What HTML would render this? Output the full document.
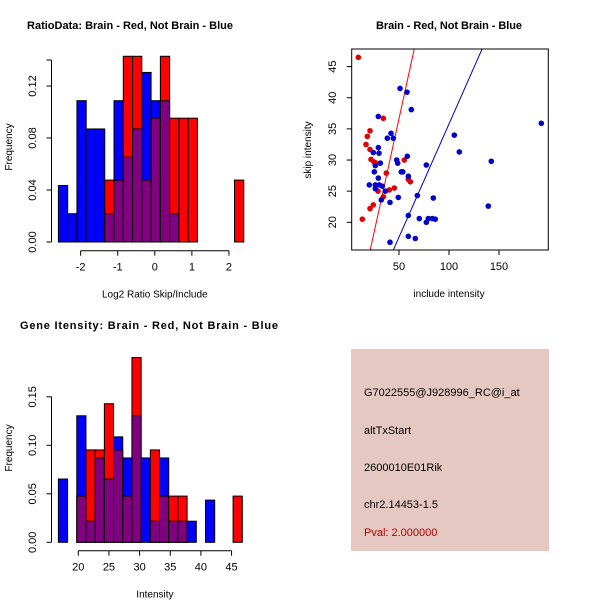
<!DOCTYPE html>
<html><head><meta charset="utf-8"><style>
html,body{margin:0;padding:0;background:#fff}
svg{display:block;font-family:"Liberation Sans",sans-serif}
</style></head><body>
<svg id="s" width="600" height="600" xmlns="http://www.w3.org/2000/svg">
<rect width="600" height="600" fill="#fff"/>
<text x="130" y="29" text-anchor="middle" font-size="11" font-weight="bold" textLength="206">RatioData: Brain - Red, Not Brain - Blue</text>
<text x="449" y="29" text-anchor="middle" font-size="11" font-weight="bold" textLength="146">Brain - Red, Not Brain - Blue</text>
<text x="149" y="329" text-anchor="middle" font-size="11" font-weight="bold" textLength="258">Gene Itensity: Brain - Red, Not Brain - Blue</text>
<g id="h1"></g>
<g id="h2"></g>
<g id="sc"></g>
<g>
<rect x="351" y="349" width="198" height="202" fill="#e5c8c1"/>
<text x="364" y="396" font-size="11">G7022555@J928996_RC@i_at</text>
<text x="364" y="434" font-size="11">altTxStart</text>
<text x="364" y="471" font-size="11">2600010E01Rik</text>
<text x="364" y="508" font-size="11">chr2.14453-1.5</text>
<text x="364" y="536" font-size="11" fill="#b00000">Pval: 2.000000</text>
</g>
</svg>
<script>
// Ratio histogram data
const ratioStart = -2.6, ratioWidth = 0.25;
const ratioBlueCounts = [2,1,5,4,4,1,5,3,4,6,5,5,1,0,0,0,0,0,0,0];
const ratioRedCounts  = [0,0,0,0,0,1,1,3,3,1,2,3,2,2,2,0,0,0,0,1];
const ratioXTicks = [-2,-1,0,1,2];
const ratioYTicks = ["0.00","0.04","0.08","0.12"];
// Intensity histogram data
const intStart = 16.75, intWidth = 1.5;
const intBlueCounts = [3,0,6,1,4,3,5,4,6,4,1,4,1,1,1,0,2,0,0,0];
const intRedCounts  = [0,0,1,2,2,3,2,1,4,0,2,1,1,1,0,0,0,0,0,1];
const intXTicks = [20,25,30,35,40,45];
const intYTicks = ["0.00","0.05","0.10","0.15"];
const nBlue = 46, nRed = 21;
// Scatter data
const redInclude = [9.3,13.3,21,18.3,17,21,22,25,29,21,24.3,34.3,37.3,34.3,40.3,45.3,55.3,59.3,61.3,26];
const redSkip    = [46.5,20.5,34.7,33.8,32.5,31.7,30.1,29.7,25.0,22.2,22.8,36.7,27.9,24.1,25.2,25.5,30.0,26.9,26.5,29.6];
const blueInclude = [51,58,62.3,29.3,42,38.3,44.3,29.3,30,24.3,31.3,26.3,47.7,48.7,58.3,52.3,53.7,25.3,29.3,59.3,20.3,26.3,30.3,33.3,26.3,36.3,32.3,41,49.3,68.3,84.3,59.3,70.3,77.3,79.3,83.3,86.3,77.3,105.3,110.3,142.3,139.3,192.3,59.3,66.3,41];
const blueSkip    = [41.5,40.9,38.1,37.0,34.3,33.5,33.5,32.0,31.1,31.2,29.5,29.1,30.0,29.5,30.6,28.1,28.1,28.1,27.1,27.4,26.0,26.0,26.0,25.8,25.4,25.0,23.6,23.2,24.0,24.3,23.9,21.1,20.6,20.0,20.6,20.6,20.5,29.2,34.0,31.3,29.8,22.6,35.9,17.75,17.4,16.8];
const redFit = [0, 0.733];
const blueFit = [-0.56, 0.3636];
const scXTicks = [50,100,150];
const scYTicks = [20,25,30,35,40,45];

const NS="http://www.w3.org/2000/svg";
function mk(parent,tag,attrs){const e=document.createElementNS(NS,tag);for(const k in attrs)e.setAttribute(k,attrs[k]);parent.appendChild(e);return e;}

function hist(g,start,w,blue,red,sx,sy,name){
  for(let i=0;i<blue.length;i++){
    const fb=blue[i]/nBlue, fr=red[i]/nRed;
    const x0=sx(start+i*w), x1=sx(start+(i+1)*w);
    const hi=Math.max(fb,fr), lo=Math.min(fb,fr);
    if(hi>0){
      const r=mk(g,'rect',{x:x0,y:sy(hi),width:x1-x0,height:sy(0)-sy(hi),fill:fb>=fr?'#0000ff':'#ff0000',stroke:'#000','stroke-width':1});
      
      
    }
    if(lo>0){
      const r=mk(g,'rect',{x:x0,y:sy(lo),width:x1-x0,height:sy(0)-sy(lo),fill:'#800080',stroke:'#000','stroke-width':1});
      
      
    }
  }
}
function axes(g,sx,sy,xt,yt,yv,ybase,xlab,name){
  const xa=sx(xt[0]), xb=sx(xt[xt.length-1]);
  mk(g,'line',{x1:xa,y1:ybase,x2:xb,y2:ybase,stroke:'#000'});
  xt.forEach(t=>{mk(g,'line',{x1:sx(t),y1:ybase,x2:sx(t),y2:ybase+5,stroke:'#000'});
    const tx=mk(g,'text',{x:sx(t),y:ybase+20,'text-anchor':'middle','font-size':11});tx.textContent=String(t);
    
    });
  const ax=51.5;
  mk(g,'line',{x1:ax,y1:sy(yv[0]),x2:ax,y2:sy(yv[yv.length-1]),stroke:'#000'});
  yv.forEach((v,i)=>{mk(g,'line',{x1:ax,y1:sy(v),x2:ax-5,y2:sy(v),stroke:'#000'});
    if(i<yt.length){
    const tx=mk(g,'text',{x:36,y:sy(v),'text-anchor':'middle','font-size':11,transform:`rotate(-90 36 ${sy(v)})`});tx.textContent=yt[i];
    
    }});
  const xl=mk(g,'text',{x:(xa+xb)/2,y:ybase+47,'text-anchor':'middle','font-size':10});xl.textContent=xlab;
  
  
}
// hist 1
(function(){
  const g=document.getElementById('h1');
  const sx=v=>154.8+v*37.08, sy=v=>242-v*1300;
  hist(g,ratioStart,ratioWidth,ratioBlueCounts,ratioRedCounts,sx,sy,'ratio');
  axes(g,sx,sy,ratioXTicks,ratioYTicks,[0,0.04,0.08,0.12,0.14],250.7,'Log2 Ratio Skip/Include','ratio');
  const yl=mk(g,'text',{x:12,y:147,'text-anchor':'middle','font-size':10,transform:'rotate(-90 12 147)'});yl.textContent='Frequency';
  
  
})();
// hist 2
(function(){
  const g=document.getElementById('h2');
  const sx=v=>78.3+(v-20)*6.13, sy=v=>542.3-v*970;
  hist(g,intStart,intWidth,intBlueCounts,intRedCounts,sx,sy,'intensity');
  axes(g,sx,sy,intXTicks,intYTicks,[0,0.05,0.10,0.15],550.7,'Intensity','intensity');
  const yl=mk(g,'text',{x:12,y:448,'text-anchor':'middle','font-size':10,transform:'rotate(-90 12 448)'});yl.textContent='Frequency';
  
  
})();
// scatter
(function(){
  const g=document.getElementById('sc');
  const L=351.7,R=548.3,T=49,B=250;
  const sx=v=>349+v, sy=v=>222.3-(v-20)*6.227;
  const clip=mk(g,'clipPath',{id:'scclip'});mk(clip,'rect',{x:L,y:T,width:R-L,height:B-T});
  const inner=mk(g,'g',{'clip-path':'url(#scclip)'});
  [[redFit,'#ff0000','red-fit-line'],[blueFit,'#0000c0','blue-fit-line']].forEach(([f,c,n])=>{
    const l=mk(inner,'line',{x1:sx(0),y1:sy(f[0]),x2:sx(200),y2:sy(f[0]+f[1]*200),stroke:c,'stroke-width':1});
    
    
  });
  redInclude.forEach((x,i)=>{const c=mk(g,'circle',{cx:sx(x),cy:sy(redSkip[i]),r:2.8,fill:'#e00000'});
    
    });
  blueInclude.forEach((x,i)=>{const c=mk(g,'circle',{cx:sx(x),cy:sy(blueSkip[i]),r:2.8,fill:'#0000d0'});
    
    });
  mk(g,'rect',{x:L,y:T,width:R-L,height:B-T,fill:'none',stroke:'#000'});
  scXTicks.forEach(t=>{mk(g,'line',{x1:sx(t),y1:B,x2:sx(t),y2:B+5,stroke:'#000'});
    const tx=mk(g,'text',{x:sx(t),y:B+20,'text-anchor':'middle','font-size':11});tx.textContent=String(t);
    
    });
  scYTicks.forEach(t=>{mk(g,'line',{x1:L,y1:sy(t),x2:L-5,y2:sy(t),stroke:'#000'});
    const tx=mk(g,'text',{x:336,y:sy(t),'text-anchor':'middle','font-size':11,transform:`rotate(-90 336 ${sy(t)})`});tx.textContent=String(t);
    
    });
  const xl=mk(g,'text',{x:449,y:297,'text-anchor':'middle','font-size':10});xl.textContent='include intensity';
  
  
  const yl=mk(g,'text',{x:311,y:150,'text-anchor':'middle','font-size':10,transform:'rotate(-90 311 150)'});yl.textContent='skip intensity';
  
  
})();
</script>
</body></html>
